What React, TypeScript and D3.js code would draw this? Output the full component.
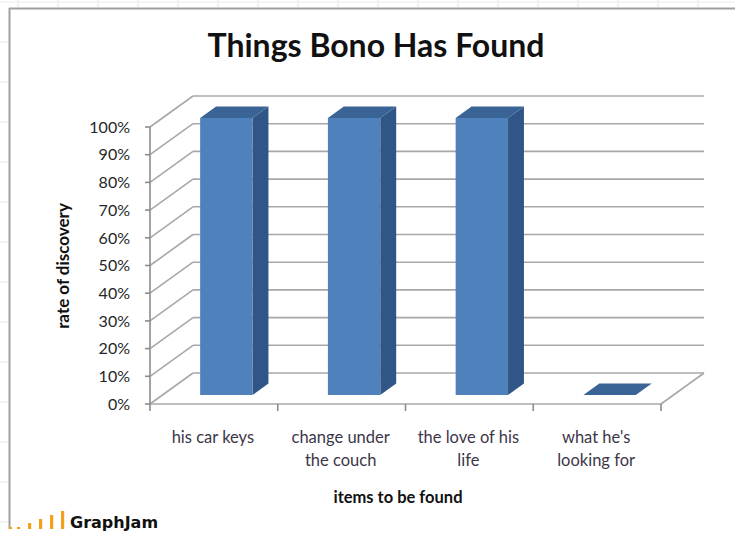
import React from "react";
import * as d3 from "d3";

const categories = ["his car keys", "change under the couch", "the love of his life", "what he's looking for"];
const categoryLines = [["his car keys"], ["change under", "the couch"], ["the love of his", "life"], ["what he's", "looking for"]];
const values = [1, 1, 1, 0];
const yTicks = [0, 0.1, 0.2, 0.3, 0.4, 0.5, 0.6, 0.7, 0.8, 0.9, 1];
const yTickLabels = ["0%", "10%", "20%", "30%", "40%", "50%", "60%", "70%", "80%", "90%", "100%"];
const title = "Things Bono Has Found";
const yTitle = "rate of discovery";
const xTitle = "items to be found";
const logoBars = [2, 6, 10, 14, 18];

const W = 735, H = 535;
const PL = 150, PR = 661, Y0 = 404, Y1 = 127;
const DX = 43, DY = -31;
const F1 = 0.29, F2 = 0.66;
const FONT = "Lato, 'Open Sans', sans-serif";

export default function App() {
  const y = d3.scaleLinear().domain([0, 1]).range([Y0, Y1]);
  const x = d3.scaleBand<string>().domain(categories).range([PL, PR]);
  const bw = x.bandwidth();
  const barW = bw * 0.41;
  const o1x = F1 * DX, o1y = F1 * DY, o2x = F2 * DX, o2y = F2 * DY;
  const grid = "#a8a8a8";
  const axis = "#8c8c8c";
  const logoX = d3.scaleLinear().domain([0, logoBars.length - 1]).range([17, 61]);

  return (
    <svg width={W} height={H} style={{ position: "absolute", left: 0, top: 0, background: "#fff" }}>
      {/* spreadsheet faint gridlines outside chart */}
      <line x1={0} x2={W} y1={2} y2={2} stroke="#ececec" strokeWidth={1} />
      {d3.range(18, W, 40).map((gx) => (
        <line key={"sv" + gx} x1={gx} x2={gx} y1={0} y2={7} stroke="#e6e6e6" strokeWidth={1} />
      ))}
      {d3.range(42, H, 40).map((gy) => (
        <line key={"sh" + gy} x1={0} x2={8} y1={gy} y2={gy} stroke="#e6e6e6" strokeWidth={1} />
      ))}
      {/* chart border */}
      <line x1={9} x2={W} y1={8.5} y2={8.5} stroke="#a0a0a0" strokeWidth={2} />
      <line x1={9.5} x2={9.5} y1={8} y2={529} stroke="#a0a0a0" strokeWidth={2} />

      <text x={376} y={57} textAnchor="middle" fontFamily={FONT} fontWeight={700} fontSize={32} fill="#111">
        {title}
      </text>

      {/* back wall gridlines */}
      {yTicks.map((t) => (
        <line key={"bg" + t} x1={PL + DX} x2={PR + DX} y1={y(t) + DY} y2={y(t) + DY} stroke={grid} strokeWidth={1.6} />
      ))}
      {/* side wall diagonals */}
      {yTicks.map((t) => (
        <line key={"sg" + t} x1={PL} x2={PL + DX} y1={y(t)} y2={y(t) + DY} stroke={grid} strokeWidth={1.6} />
      ))}
      {/* floor */}
      <line x1={PL} x2={PR} y1={Y0} y2={Y0} stroke={grid} strokeWidth={1.6} />
      <line x1={PR} x2={PR + DX} y1={Y0} y2={Y0 + DY} stroke={grid} strokeWidth={1.6} />

      {/* bars */}
      {categories.map((c, i) => {
        const x0 = (x(c) as number) + (bw - barW) / 2;
        const x1 = x0 + barW;
        const yt = y(values[i]);
        const yb = y(0);
        const side = [
          [x1 + o1x, yt + o1y], [x1 + o2x, yt + o2y], [x1 + o2x, yb + o2y], [x1 + o1x, yb + o1y],
        ];
        const top = [
          [x0 + o1x, yt + o1y], [x1 + o1x, yt + o1y], [x1 + o2x, yt + o2y], [x0 + o2x, yt + o2y],
        ];
        const pts = (p: number[][]) => p.map((q) => q.join(",")).join(" ");
        return (
          <g key={c}>
            {yb - yt > 0 && <polygon points={pts(side)} fill="#2f5686" />}
            {yb - yt > 0 && (
              <rect x={x0 + o1x} y={yt + o1y} width={barW} height={yb - yt} fill="#4f81bd" />
            )}
            <polygon points={pts(top)} fill="#3a6396" />
          </g>
        );
      })}

      {/* y axis */}
      <line x1={PL} x2={PL} y1={Y1} y2={Y0} stroke={axis} strokeWidth={1.6} />
      {yTicks.map((t, i) => (
        <g key={"yt" + t}>
          <line x1={PL - 5} x2={PL} y1={y(t)} y2={y(t)} stroke={axis} strokeWidth={1.6} />
          <text x={130} y={y(t)} dy="0.36em" textAnchor="end" fontFamily={FONT} fontSize={16} fill="#262626">
            {yTickLabels[i]}
          </text>
        </g>
      ))}
      <text
        transform={`translate(69,266) rotate(-90)`}
        textAnchor="middle"
        fontFamily={FONT}
        fontWeight={700}
        fontSize={17}
        fill="#111"
      >
        {yTitle}
      </text>

      {/* x axis ticks */}
      {[...categories.map((c) => x(c) as number), PR].map((tx, i) => (
        <line key={"xt" + i} x1={tx} x2={tx} y1={Y0} y2={Y0 + 7} stroke={axis} strokeWidth={1.6} />
      ))}
      {categories.map((c, i) => (
        <text key={"xl" + c} textAnchor="middle" fontFamily={FONT} fontSize={16.5} fill="#3d3648">
          {categoryLines[i].map((ln, j) => (
            <tspan key={j} x={(x(c) as number) + bw / 2 - 1} y={443 + j * 22.5}>
              {ln}
            </tspan>
          ))}
        </text>
      ))}
      <text x={398} y={503} textAnchor="middle" fontFamily={FONT} fontWeight={700} fontSize={16.5} fill="#111">
        {xTitle}
      </text>

      {/* GraphJam logo */}
      <rect x={9} y={527} width={3} height={2} fill="#f5a01a" />
      {logoBars.map((h, i) => (
        <rect key={"lb" + i} x={logoX(i)} y={529 - h} width={3.2} height={h} fill="#f5a01a" />
      ))}
      <text x={70} y={528} fontFamily="'DejaVu Sans', sans-serif" fontWeight={700} fontSize={16} fill="#111">
        GraphJam
      </text>
    </svg>
  );
}
